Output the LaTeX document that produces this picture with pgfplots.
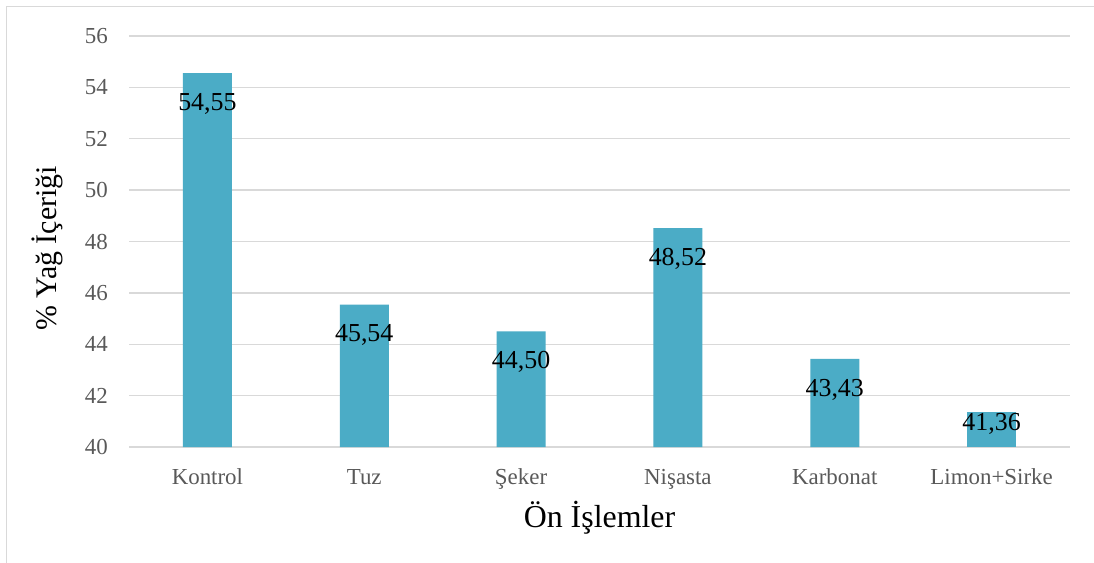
\documentclass[border=0pt]{standalone}
\usepackage{fontspec}
\setmainfont{Liberation Serif}
\usepackage{pgfplots}
\usepackage{pgfplotstable}
\pgfplotsset{compat=1.18}
\definecolor{barc}{HTML}{4BACC6}
\definecolor{gridc}{HTML}{D9D9D9}
\definecolor{tickc}{HTML}{595959}
\pgfplotstableread{
x y label
0 54.55 54,55
1 45.54 45,54
2 44.50 44,50
3 48.52 48,52
4 43.43 43,43
}\tallbars
\pgfplotstableread{
x y label
5 41.36 41,36
}\shortbars
\pgfplotsset{mybar/.style={ybar, bar width=49bp, bar shift=0pt, fill=barc, draw=none, mark=none,
    point meta=explicit symbolic, nodes near coords}}
\begin{document}
\begin{tikzpicture}
\useasboundingbox (0,0) rectangle (1094bp,563bp);
\fill[white] (0,0) rectangle (1094bp,563bp);
\draw[gridc, line width=1.3bp] (6.5bp,-5bp) -- (6.5bp,556.5bp) -- (1100bp,556.5bp);
\begin{axis}[
  at={(129bp,116bp)}, anchor=south west,
  scale only axis, width=941bp, height=411bp,
  xmin=-0.5, xmax=5.5, ymin=40, ymax=56,
  ytick={40,42,...,56},
  xtick={0,1,2,3,4,5},
  xticklabels={Kontrol,Tuz,Şeker,Nişasta,Karbonat,Limon+Sirke},
  axis line style={draw=none},
  major tick length=0pt,
  ymajorgrids,
  grid style={gridc, line width=1.3bp},
  clip=false,
  /pgf/number format/assume math mode=true,
  xticklabel style={font=\fontsize{23}{27}\selectfont, text=tickc, anchor=base, inner sep=0pt, yshift=-37bp},
  yticklabel style={font=\fontsize{23}{27}\selectfont, text=tickc, anchor=east, inner sep=0pt, xshift=-21bp},
  xlabel={Ön İşlemler},
  ylabel={\% Yağ İçeriği},
  xlabel style={at={(axis description cs:0.5,-0.19465)}, anchor=base, inner sep=0pt, font=\fontsize{32}{36}\selectfont},
  ylabel style={at={(axis description cs:-0.0768,0.483)}, anchor=base, inner sep=0pt, font=\fontsize{30}{34}\selectfont},
]
\addplot[mybar, every node near coord/.append style={anchor=north, yshift=-20bp, inner sep=0pt, font=\fontsize{26}{30}\selectfont, text=black}]
  table[x=x, y=y, meta=label] {\tallbars};
\addplot[mybar, every node near coord/.append style={anchor=north, yshift=-1bp, inner sep=0pt, font=\fontsize{26}{30}\selectfont, text=black}]
  table[x=x, y=y, meta=label] {\shortbars};
\end{axis}
\end{tikzpicture}
\end{document}
